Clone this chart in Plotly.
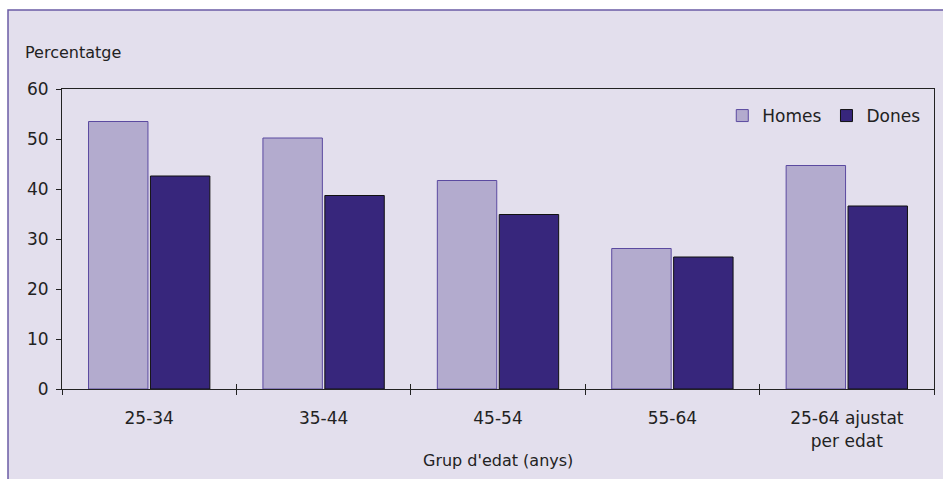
import plotly.graph_objects as go

# Percentage by age group, men vs women
grups = ["25-34", "35-44", "45-54", "55-64", "25-64 ajustat<br>per edat"]
homes = [53.5, 50.2, 41.7, 28.1, 44.7]
dones = [42.6, 38.7, 34.9, 26.4, 36.6]
y_ticks = [0, 10, 20, 30, 40, 50, 60]

FONT = "DejaVu Sans"
TEXT = "#222222"
BG = "#e3dfed"
FRAME = "#6b5ca5"
FS = 17

fig = go.Figure()
fig.add_trace(go.Bar(
    name="Homes", x=grups, y=homes,
    marker=dict(color="#b3abce", line=dict(color="#5b4aa0", width=1)),
))
fig.add_trace(go.Bar(
    name="Dones", x=grups, y=dones,
    marker=dict(color="#37267c", line=dict(color="#111111", width=1)),
))
# invisible helper trace so the inner half of the x ticks can be drawn
fig.add_trace(go.Bar(x=grups, y=[None] * len(grups), xaxis="x2",
                     showlegend=False, hoverinfo="skip"))

W, H = 943, 479
L, R, T, B = 62, 9, 89, 90

fig.update_layout(
    width=W, height=H,
    margin=dict(l=L, r=R, t=T, b=B),
    paper_bgcolor="white",
    plot_bgcolor=BG,
    barmode="group",
    bargap=0.29,
    bargroupgap=0.04,
    font=dict(family=FONT, size=FS, color=TEXT),
    showlegend=True,
    legend=dict(
        orientation="h",
        x=0.99, xanchor="right",
        y=0.91, yanchor="middle",
        bgcolor="rgba(0,0,0,0)",
        font=dict(family=FONT, size=FS, color=TEXT),
        itemwidth=30,
        traceorder="normal",
    ),
    xaxis=dict(
        type="category",
        range=[-0.5, 4.5],
        showline=True, linecolor="#222222", linewidth=1,
        mirror=True,
        ticks="outside", ticklen=5, tickcolor="#222222",
        tickson="boundaries",
        ticklabelstandoff=14,
        showgrid=False,
        tickfont=dict(family=FONT, size=FS, color=TEXT),
    ),
    xaxis2=dict(
        type="category",
        overlaying="x",
        range=[-0.5, 4.5],
        side="bottom",
        anchor="y",
        ticks="inside", ticklen=5, tickcolor="#222222",
        tickson="boundaries",
        showticklabels=False,
        showgrid=False,
        showline=False,
    ),
    yaxis=dict(
        range=[0, 60],
        tickvals=y_ticks,
        showline=True, linecolor="#222222", linewidth=1,
        mirror=True,
        ticks="outside", ticklen=5, tickcolor="#222222",
        ticklabelstandoff=4,
        showgrid=False, zeroline=False,
        tickfont=dict(family=FONT, size=FS, color=TEXT),
    ),
)

# lavender panel with a purple frame behind the whole chart
pw = W - L - R
ph = H - T - B
fig.add_shape(
    type="rect", xref="paper", yref="paper", layer="below",
    x0=(8 - L) / pw, x1=1 + 40 / pw,
    y0=-(B + 40) / ph, y1=1 + (T - 10) / ph,
    fillcolor=BG, line=dict(color=FRAME, width=1.5),
)

fig.add_annotation(
    text="Percentatge", xref="paper", yref="paper",
    x=(23 - L) / pw, y=1 + (T - 52) / ph,
    xanchor="left", yanchor="middle", showarrow=False,
    font=dict(family=FONT, size=16, color=TEXT),
)

# x-axis title placed just under the two-line category label
fig.add_annotation(
    text="Grup d'edat (anys)", xref="paper", yref="paper",
    x=0.5, y=-(460 - (H - B)) / ph,
    xanchor="center", yanchor="middle", showarrow=False,
    font=dict(family=FONT, size=16, color=TEXT),
)

fig.write_html("out.html")
